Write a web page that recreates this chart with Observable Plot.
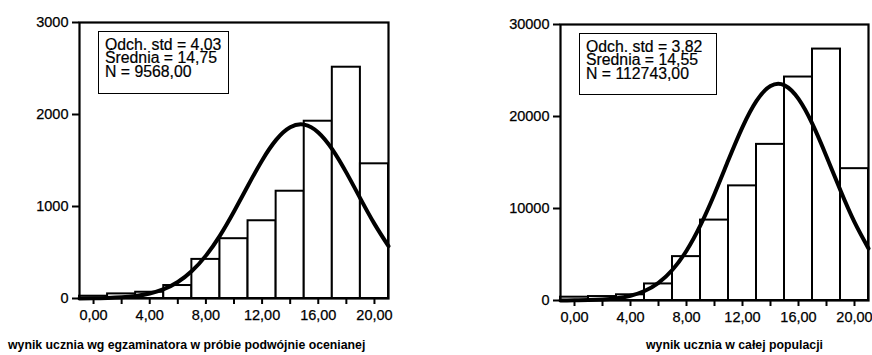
<!DOCTYPE html>
<html>
<head>
<meta charset="utf-8">
<script src="https://cdn.jsdelivr.net/npm/d3@7"></script>
<script src="https://cdn.jsdelivr.net/npm/@observablehq/plot@0.6"></script>
<style>
  html, body { margin: 0; padding: 0; background: #fff; }
  #wrap { position: relative; width: 872px; height: 355px; overflow: hidden; font-family: "Liberation Sans", Arial, sans-serif; color: #000; }
  .panel { position: absolute; top: 0; }
  .panel svg text { stroke: #000; stroke-width: 0.25px; }
  .stats { position: absolute; box-sizing: border-box; border: 1.5px solid #000; background: #fff;
           font-size: 15.8px; line-height: 13.3px; padding: 6px 0 0 6px; white-space: pre; -webkit-text-stroke: 0.2px #000; }
  .xlabel { position: absolute; font-weight: bold; font-size: 12.3px; line-height: 12px; white-space: nowrap; }
</style>
</head>
<body>
<div id="wrap">
  <div id="left" class="panel" style="left:0"></div>
  <div id="right" class="panel" style="left:436px"></div>
  <div id="statsLeft" class="stats" style="left:98px;top:31px;width:131px;height:63px"></div>
  <div id="statsRight" class="stats" style="left:579px;top:33px;width:138px;height:62px"></div>
  <div id="labelLeft" class="xlabel" style="left:8px;top:339px"></div>
  <div id="labelRight" class="xlabel" style="left:646px;top:339px"></div>
</div>
<script>
// ---- data ----
const binCenters = [0, 2, 4, 6, 8, 10, 12, 14, 16, 18, 20];
const countsSample = [25, 50, 68, 141, 425, 650, 845, 1166, 1927, 2514, 1464];
const countsPopulation = [360, 430, 620, 1800, 4770, 8740, 12460, 16970, 24290, 27330, 14330];

const curveX = [-1, 0, 1, 2, 3, 4, 5, 6, 7, 8, 9, 10, 11, 12, 13, 14, 15, 16, 17, 18, 19, 20, 21];
const curveSample = [1, 2, 6, 13, 27, 54, 101, 179, 298, 466, 684, 946, 1228, 1501, 1724, 1861, 1890, 1805, 1621, 1368, 1086, 811, 569];
const curvePopulation = [6, 17, 44, 107, 244, 519, 1035, 1924, 3341, 5414, 8197, 11584, 15293, 18846, 21689, 23307, 23386, 21912, 19169, 15661, 11949, 8511, 5661];

const xMajorTicks = [0, 4, 8, 12, 16, 20];
const xTickLabels = ["0,00", "4,00", "8,00", "12,00", "16,00", "20,00"];
const xMinorTicks = [2, 6, 10, 14, 18];
const yTicksSample = [0, 1000, 2000, 3000];
const yTicksPopulation = [0, 10000, 20000, 30000];

const statsSample = ["Odch. std = 4,03", "Średnia = 14,75", "N = 9568,00"];
const statsPopulation = ["Odch. std = 3,82", "Średnia = 14,55", "N = 112743,00"];
const labelSample = "wynik ucznia wg egzaminatora w próbie podwójnie ocenianej";
const labelPopulation = "wynik ucznia w całej populacji";

// ---- chart ----
function histogram({counts, curve, yMax, yTicks, width, marginLeft, marginRight, marginTop, marginBottom}) {
  const bars = binCenters.map((x, i) => ({x, n: counts[i]}));
  const line = curveX.map((x, i) => ({x, y: curve[i]}));
  return Plot.plot({
    width, height: 355, marginLeft, marginRight, marginTop, marginBottom,
    x: {domain: [-1, 21]},
    y: {domain: [0, yMax]},
    style: {fontFamily: "'Liberation Sans', Arial, sans-serif", fontSize: "14.5px", color: "#000", background: "#fff"},
    marks: [
      Plot.rectY(bars, {x1: d => d.x - 1, x2: d => d.x + 1, y: "n", fill: "#fff", stroke: "#000", strokeWidth: 2}),
      Plot.line(line, {x: "x", y: "y", curve: "natural", stroke: "#000", strokeWidth: 4, strokeLinecap: "round"}),
      Plot.frame({stroke: "#000", strokeWidth: 2.2}),
      Plot.axisY({ticks: yTicks, tickFormat: d => String(d), tickSize: 7, tickPadding: 4, label: null, strokeWidth: 2}),
      Plot.axisX({ticks: xMajorTicks, tickFormat: d => xTickLabels[xMajorTicks.indexOf(d)], tickSize: 6, tickPadding: 5, label: null, strokeWidth: 2}),
      Plot.axisX({ticks: xMinorTicks, tickFormat: () => "", tickSize: 6, label: null, strokeWidth: 2})
    ]
  });
}

document.getElementById("left").append(histogram({
  counts: countsSample, curve: curveSample, yMax: 3000, yTicks: yTicksSample,
  width: 436, marginLeft: 79, marginRight: 48, marginTop: 22, marginBottom: 57
}));
document.getElementById("right").append(histogram({
  counts: countsPopulation, curve: curvePopulation, yMax: 30000, yTicks: yTicksPopulation,
  width: 436, marginLeft: 124, marginRight: 4, marginTop: 24, marginBottom: 55
}));

document.getElementById("statsLeft").textContent = statsSample.join("\n");
document.getElementById("statsRight").textContent = statsPopulation.join("\n");
document.getElementById("labelLeft").textContent = labelSample;
document.getElementById("labelRight").textContent = labelPopulation;
</script>
</body>
</html>
